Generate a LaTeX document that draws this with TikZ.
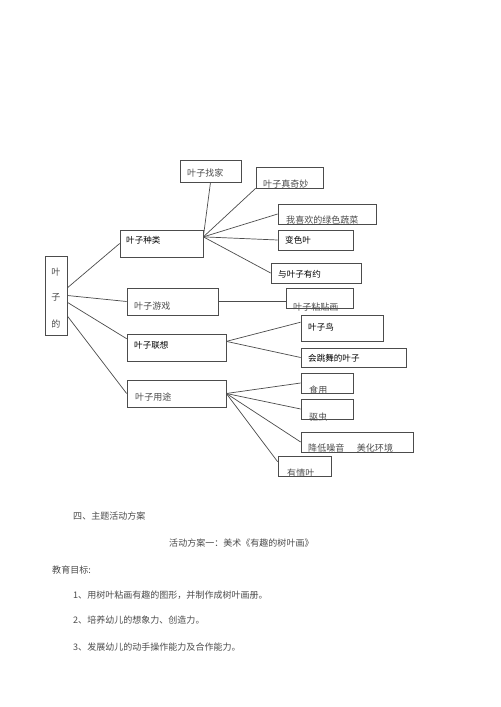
\documentclass[tikz,border=0pt]{standalone}
\usepackage{fontspec}
\setmainfont{Noto Sans CJK SC}
\usetikzlibrary{fit}

\begin{document}
\begin{tikzpicture}[x=0.03cm, y=-0.03cm,
   box/.style={draw=black!70, line width=0.6pt, inner sep=0pt},
   link/.style={draw=black!70, line width=0.6pt},
   lt/.style={anchor=west, inner sep=0pt, text=black!70, font=\fontsize{7.7}{9}\selectfont},
   dk/.style={anchor=west, inner sep=0pt, text=black, font=\fontsize{7.3}{9}\selectfont}]%
   \useasboundingbox[fill=white] (0,0) rectangle (500,707);
   \node[box, fit={(45,256) (67,335)}] (yd) {};
   \node[lt, anchor=center] (yd1) at (56,272) {叶};
   \node[lt, anchor=center] (yd2) at (56,297) {子};
   \node[lt, anchor=center] (yd3) at (56,324) {的};
   \node[box, fit={(120,230) (203,257)}] (zl) {};
   \node[dk] (zlt) at (126,240) {叶子种类};
   \node[box, fit={(127,288) (218,315)}] (zy) {};
   \node[lt] (zyt) at (134,306) {叶子游戏};
   \node[box, fit={(127,334) (226,361)}] (zx) {};
   \node[dk] (zxt) at (134,345) {叶子联想};
   \node[box, fit={(127,380) (226,407)}] (zu) {};
   \node[lt] (zut) at (135,397) {叶子用途};
   \node[box, fit={(180,160) (241,182)}] (zj) {};
   \node[lt] (zjt) at (187,173) {叶子找家};
   \node[box, fit={(256,167) (323,188)}] (zz) {};
   \node[lt] (zzt) at (263,184) {叶子真奇妙};
   \node[box, fit={(278,204) (376,224)}] (wx) {};
   \node[lt] (wxt) at (286,220) {我喜欢的绿色蔬菜};
   \node[box, fit={(278,230) (353,250)}] (bs) {};
   \node[dk] (bst) at (285,240) {变色叶};
   \node[box, fit={(271,263) (361,283)}] (yy) {};
   \node[dk] (yyt) at (278,274) {与叶子有约};
   \node[box, fit={(286,288) (353,308)}] (zt) {};
   \node[lt] (ztt) at (293,307) {叶子粘贴画};
   \node[box, fit={(301,315) (383,341)}] (yn) {};
   \node[dk] (ynt) at (308,327) {叶子鸟};
   \node[box, fit={(301,348) (406,367)}] (tw) {};
   \node[dk] (twt) at (308,358) {会跳舞的叶子};
   \node[box, fit={(301,373) (353,393)}] (sy) {};
   \node[lt] (syt) at (309,390) {食用};
   \node[box, fit={(301,399) (353,419)}] (qc) {};
   \node[lt] (qct) at (309,417) {驱虫};
   \node[box, fit={(301,432) (413,452)}] (jd) {};
   \node[lt] (jdt) at (308,448) {降低噪音\hspace{1.4em}美化环境};
   \node[box, fit={(278,456) (331,476)}] (yq) {};
   \node[lt] (yqt) at (287,473) {有情叶};
   \draw[link] (yd.34) -- (zl.west);
   \draw[link] (yd.east) -- (zy.west);
   \draw[link] (yd.-31) -- (zx.170);
   \draw[link] (yd.-61) -- (zu.west);
   \draw[link] (zl.9) -- (zj.south);
   \draw[link] (zl.9) -- (zz.south west);
   \draw[link] (zl.9) -- (wx.west);
   \draw[link] (zl.9) -- (bs.west);
   \draw[link] (zl.9) -- (yy.west);
   \draw[link] (zy.east) -- (zy.east -| zt.west);
   \draw[link] (zx.7) -- (yn.172);
   \draw[link] (zx.7) -- (tw.west);
   \draw[link] (zu.east) -- (sy.west);
   \draw[link] (zu.east) -- (qc.west);
   \draw[link] (zu.east) -- (jd.west);
   \draw[link] (zu.east) -- (yq.171);
   \node[lt] (t1) at (73,516) {四、主题活动方案};
   \node[lt] (t2) at (169,543) {活动方案一：美术《有趣的树叶画》};
   \node[lt] (t3) at (52,570) {教育目标:};
   \node[lt] (t4) at (73,595) {1、用树叶粘画有趣的图形，并制作成树叶画册。};
   \node[lt] (t5) at (73,620) {2、培养幼儿的想象力、创造力。};
   \node[lt] (t6) at (73,647) {3、发展幼儿的动手操作能力及合作能力。};
\end{tikzpicture}
\end{document}
